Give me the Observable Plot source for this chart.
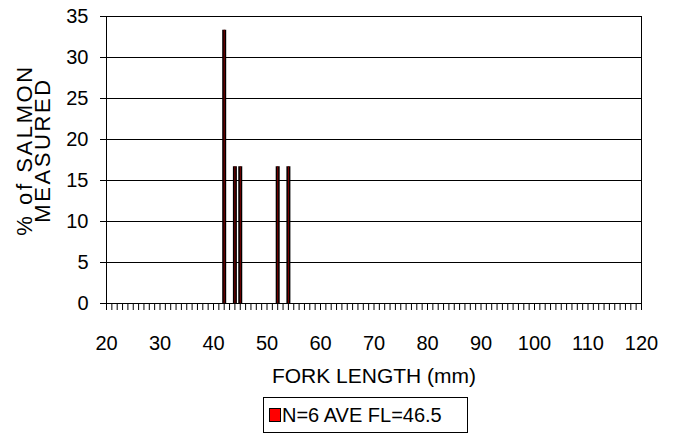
<!DOCTYPE html>
<html>
<head>
<meta charset="utf-8">
<script src="https://cdn.jsdelivr.net/npm/d3@7"></script>
<script src="https://cdn.jsdelivr.net/npm/@observablehq/plot@0.6"></script>
<style>
  html, body { margin: 0; padding: 0; background: #fff; }
  #wrap { position: relative; width: 674px; height: 436px; font-family: "Liberation Sans", Arial, sans-serif; overflow: hidden; }
  #legend { position: absolute; left: 263px; top: 397px; width: 205px; height: 36px; border: 1px solid #000; box-sizing: border-box; background: #fff; }
  #legend .sw { position: absolute; left: 5px; top: 10px; width: 10px; height: 12px; background: #ff0000; border: 1.5px solid #000; }
  #legend .lb { position: absolute; left: 18px; top: 5px; font-size: 20px; line-height: 24px; color: #000; white-space: nowrap; }
  #ytitle { position: absolute; left: -66px; top: 132px; width: 200px; height: 36px; transform: rotate(-90deg); transform-origin: 50% 50%;
            text-align: center; font-size: 22px; line-height: 18px; letter-spacing: 2.6px; color: #000; white-space: pre; }
</style>
</head>
<body>
<div id="wrap"><div id="ytitle"></div><div id="legend"><div class="sw"></div><div class="lb"></div></div></div>
<script>
// Data
const forkLengths = [42, 44, 45, 52, 54];
const percents = [33.33, 16.67, 16.67, 16.67, 16.67];
const yTicks = [0, 5, 10, 15, 20, 25, 30, 35];
const xMajorTicks = [20, 30, 40, 50, 60, 70, 80, 90, 100, 110, 120];
const xMinorTicks = d3.range(20, 121, 1);
const legendLabel = "N=6 AVE FL=46.5";
const xTitle = "FORK LENGTH (mm)";
const yTitleLines = ["% of SALMON", "MEASURED"];

const data = forkLengths.map((fl, i) => ({fl, pct: percents[i]}));

const plot = Plot.plot({
  width: 674,
  height: 436,
  marginLeft: 106,
  marginRight: 33,
  marginTop: 16,
  marginBottom: 133,
  style: {fontFamily: "'Liberation Sans', Arial, sans-serif", fontSize: "20px", color: "#000", background: "#fff"},
  x: {domain: [20, 120]},
  y: {domain: [0, 35]},
  marks: [
    Plot.ruleY(yTicks.filter(d => d > 0), {stroke: "#000", strokeWidth: 1}),
    Plot.axisY({ticks: yTicks, tickSize: 6, tickPadding: 12, label: null, fontSize: 20}),
    Plot.axisX({ticks: xMinorTicks, tickSize: 7, tickFormat: () => "", label: null}),
    Plot.axisX({ticks: xMajorTicks, tickSize: 0, tickPadding: 32, label: null, fontSize: 20}),
    Plot.frame({stroke: "#000", strokeWidth: 1}),
    Plot.ruleX(data, {x: "fl", y1: 0, y2: "pct", stroke: "#000", strokeWidth: 4}),
    Plot.ruleX(data, {x: "fl", y1: 0, y2: "pct", stroke: "#880000", strokeWidth: 1}),
    Plot.text([xTitle], {frameAnchor: "bottom", text: d => d, lineAnchor: "middle", dy: 73, fontSize: 21})
  ]
});

const wrap = document.getElementById("wrap");
wrap.prepend(plot);
plot.style.position = "absolute";
plot.style.left = "0";
plot.style.top = "0";
document.getElementById("ytitle").textContent = yTitleLines.join("\n");
document.querySelector("#legend .lb").textContent = legendLabel;
</script>
</body>
</html>
